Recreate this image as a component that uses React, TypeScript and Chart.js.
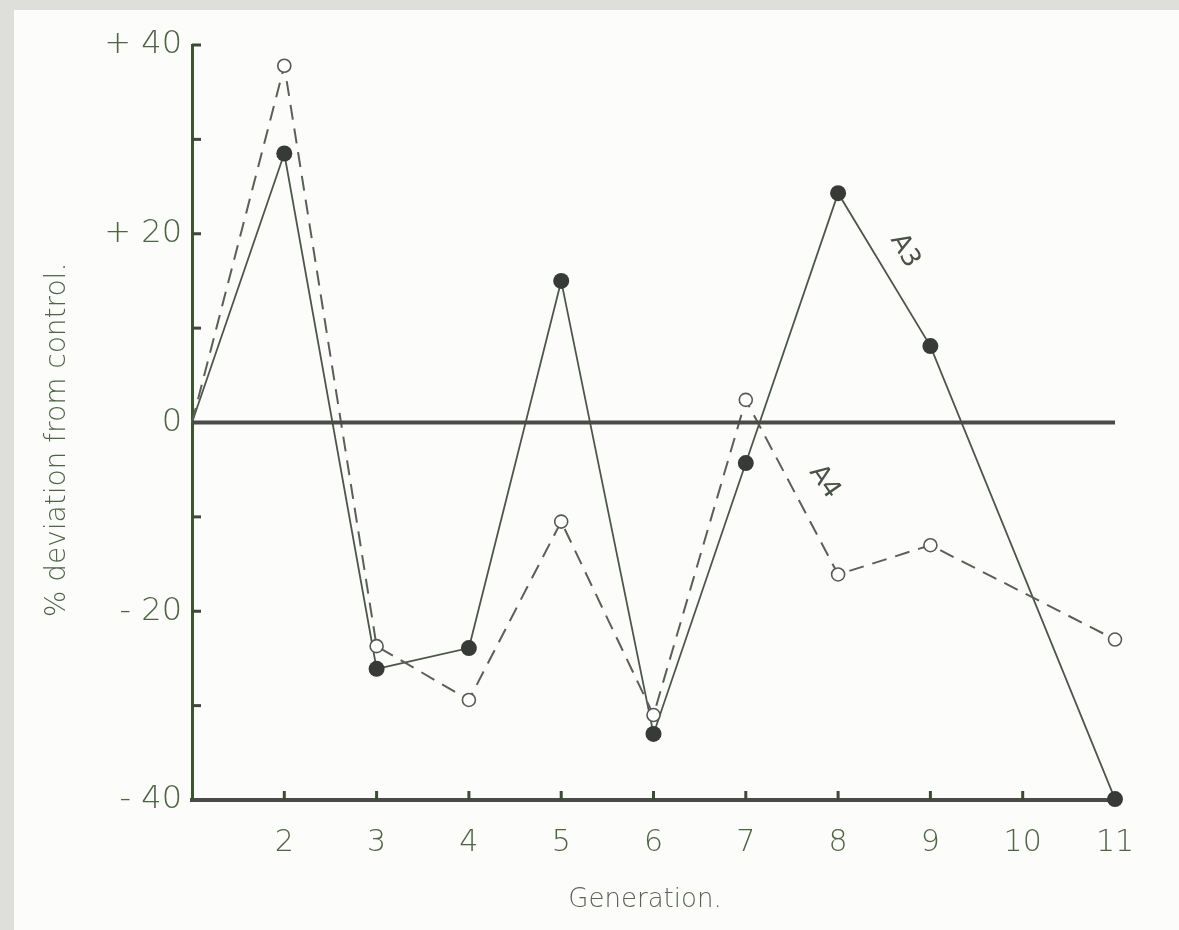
import React, { useEffect, useRef } from "react";
import { Chart, registerables } from "chart.js";

Chart.register(...registerables);

const generations = [1, 2, 3, 4, 5, 6, 7, 8, 9, 11];
const seriesA3 = [0, 28.5, -26.1, -23.9, 15.0, -33.0, -4.3, 24.3, 8.1, -39.9];
const seriesA4 = [0, 37.8, -23.7, -29.4, -10.5, -31.0, 2.4, -16.1, -13.0, -23.0];
const yTickLabels: Record<string, string> = { "40": "+ 40", "20": "+ 20", "0": "0", "-20": "- 20", "-40": "- 40" };
const xTickLabels = ["", "2", "3", "4", "5", "6", "7", "8", "9", "10", "11"];
const minorYTicks = [-30, -20, -10, 10, 20, 30, 40];
const minorXTicks = [2, 3, 4, 5, 6, 7, 8, 9, 10];
const labelA3 = { text: "A3", x: 8.72, y: 18.2, angle: 60 };
const labelA4 = { text: "A4", x: 7.85, y: -6.3, angle: 55 };

const TEXT = "#4f6446";
const LINE = "#4e564b";
const FONT = "'DejaVu Sans', sans-serif";

export default function App() {
  const ref = useRef<HTMLCanvasElement | null>(null);

  useEffect(() => {
    document.body.style.margin = "0";
    const canvas = ref.current!;
    const decor = {
      id: "decor",
      afterDraw(chart: any) {
        const { ctx, scales } = chart;
        const xs = scales.x;
        const ys = scales.y;
        ctx.save();
        // zero line
        ctx.strokeStyle = "#4a4a48";
        ctx.lineWidth = 4;
        ctx.beginPath();
        ctx.moveTo(xs.getPixelForValue(1), ys.getPixelForValue(0));
        ctx.lineTo(xs.getPixelForValue(11), ys.getPixelForValue(0));
        ctx.stroke();
        // inner tick marks
        ctx.strokeStyle = "#3e4a38";
        ctx.lineWidth = 3;
        const x0 = xs.getPixelForValue(1);
        minorYTicks.forEach((v) => {
          const y = ys.getPixelForValue(v);
          ctx.beginPath();
          ctx.moveTo(x0, y);
          ctx.lineTo(x0 + 9, y);
          ctx.stroke();
        });
        const yb = ys.getPixelForValue(-40);
        minorXTicks.forEach((v) => {
          const x = xs.getPixelForValue(v);
          ctx.beginPath();
          ctx.moveTo(x, yb);
          ctx.lineTo(x, yb - 9);
          ctx.stroke();
        });
        // series labels
        ctx.fillStyle = "#4a5246";
        ctx.font = `400 26px ${FONT}`;
        ctx.textAlign = "center";
        ctx.textBaseline = "middle";
        [labelA3, labelA4].forEach((l) => {
          ctx.save();
          ctx.translate(xs.getPixelForValue(l.x), ys.getPixelForValue(l.y));
          ctx.rotate((l.angle * Math.PI) / 180);
          ctx.fillText(l.text, 0, 0);
          ctx.restore();
        });
        // axis titles
        ctx.fillStyle = "#5a6356";
        ctx.font = `200 26px ${FONT}`;
        ctx.fillText("Generation.", 645, 900);
        ctx.save();
        ctx.translate(58, 440);
        ctx.rotate(-Math.PI / 2);
        ctx.fillStyle = TEXT;
        ctx.font = `200 28px ${FONT}`;
        ctx.fillText("% deviation from control.", 0, 0);
        ctx.restore();
        ctx.restore();
      },
    };

    const chart = new Chart(canvas, {
      type: "line",
      data: {
        datasets: [
          {
            label: "A4",
            data: generations.map((g, i) => ({ x: g, y: seriesA4[i] })),
            borderColor: "#5a5f57",
            borderWidth: 2,
            borderDash: [15, 9],
            pointRadius: generations.map((_, i) => (i === 0 ? 0 : 6.5)),
            pointBackgroundColor: "#ffffff",
            pointBorderColor: "#555a52",
            pointBorderWidth: 1.6,
            tension: 0,
            clip: false,
          },
          {
            label: "A3",
            data: generations.map((g, i) => ({ x: g, y: seriesA3[i] })),
            borderColor: LINE,
            borderWidth: 1.8,
            pointRadius: generations.map((_, i) => (i === 0 ? 0 : 8)),
            pointBackgroundColor: "#383a38",
            pointBorderColor: "#383a38",
            pointBorderWidth: 0,
            tension: 0,
            clip: false,
          },
        ],
      },
      options: {
        animation: false,
        responsive: false,
        layout: { padding: { left: 0, top: 45, right: 64, bottom: 0 } },
        plugins: { legend: { display: false }, tooltip: { enabled: false } },
        scales: {
          x: {
            type: "linear",
            min: 1,
            max: 11,
            grid: { display: false, drawTicks: false },
            border: { display: true, color: "#4a4c48", width: 4 },
            ticks: {
              stepSize: 1,
              autoSkip: false,
              padding: 25,
              color: TEXT,
              font: { family: FONT, size: 30, weight: 200 },
              maxRotation: 0,
              callback: (v: any) => xTickLabels[Number(v) - 1] ?? "",
            },
            afterFit: (s: any) => {
              s.height = 130;
            },
          },
          y: {
            min: -40,
            max: 40,
            grid: { display: false, drawTicks: false },
            border: { display: true, color: "#3d5530", width: 3 },
            ticks: {
              stepSize: 10,
              autoSkip: false,
              padding: 10,
              color: TEXT,
              font: { family: FONT, size: 32, weight: 200 },
              callback: (v: any) => yTickLabels[String(v)] ?? "",
            },
            afterFit: (s: any) => {
              s.width = 192;
            },
          },
        },
      },
      plugins: [decor],
    });
    return () => chart.destroy();
  }, []);

  return (
    <div style={{ position: "relative", width: 1179, height: 930, background: "#dedfdb", overflow: "hidden" }}>
      <div style={{ position: "absolute", left: 14, top: 10, right: 0, bottom: 0, background: "#fcfcfa" }} />
      <canvas ref={ref} width={1179} height={930} style={{ position: "absolute", left: 0, top: 0 }} />
    </div>
  );
}
